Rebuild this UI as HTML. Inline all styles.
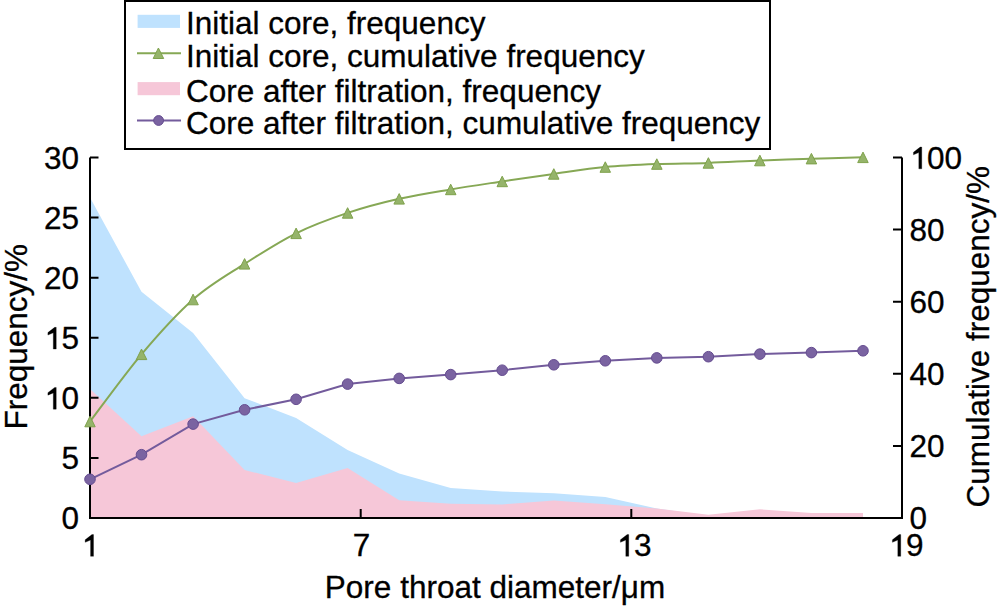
<!DOCTYPE html>
<html><head><meta charset="utf-8"><style>
html,body{margin:0;padding:0;background:#fff;width:1000px;height:609px;overflow:hidden}
svg{display:block}
text{font-family:"Liberation Sans",sans-serif;font-size:31.5px;fill:#000;stroke:#000;stroke-width:0.3px}
</style></head><body>
<svg width="1000" height="609" viewBox="0 0 1000 609">
<polygon points='90.0,518.0 90.0,197.5 141.5,291.8 193.1,333.0 244.6,398.2 296.1,418.0 347.6,450.0 399.2,473.5 450.7,488.0 502.2,491.5 553.8,493.3 605.3,497.0 656.8,508.5 708.4,516.0 759.9,516.0 811.4,516.0 863.0,516.0 863.0,518.0' fill='#BFE2FE'/>
<polygon points='90.0,518.0 90.0,389.0 141.5,436.3 193.1,416.3 244.6,470.0 296.1,483.0 347.6,468.0 399.2,500.3 450.7,503.8 502.2,504.4 553.8,500.5 605.3,504.2 656.8,508.5 708.4,514.8 759.9,509.3 811.4,513.0 863.0,513.0 863.0,518.0' fill='#F6C7D8'/>
<path d='M90,157.5 L90,518 L902,518 L902,157.5' fill='none' stroke='#000' stroke-width='2'/>
<path d='M90,518.0 L98.5,518.0 M90,457.9 L98.5,457.9 M90,397.8 L98.5,397.8 M90,337.8 L98.5,337.8 M90,277.7 L98.5,277.7 M90,217.6 L98.5,217.6 M90,157.5 L98.5,157.5 M902,518.0 L893,518.0 M902,445.9 L893,445.9 M902,373.8 L893,373.8 M902,301.7 L893,301.7 M902,229.6 L893,229.6 M902,157.5 L893,157.5 M360.7,518 L360.7,509 M631.3,518 L631.3,509' stroke='#000' stroke-width='2'/>
<path d='M90.0,421.5 C98.6,410.3 124.4,374.6 141.5,354.3 C158.7,334.0 175.9,314.6 193.1,299.5 C210.2,284.4 227.4,274.9 244.6,263.9 C261.8,252.9 278.9,241.8 296.1,233.3 C313.3,224.8 330.5,218.7 347.6,212.9 C364.8,207.2 382.0,202.7 399.2,198.8 C416.4,194.9 433.5,192.3 450.7,189.4 C467.9,186.5 485.1,184.0 502.2,181.4 C519.4,178.8 536.6,176.3 553.8,173.9 C570.9,171.5 588.1,168.7 605.3,167.1 C622.5,165.5 639.7,164.8 656.8,164.1 C674.0,163.4 691.2,163.5 708.4,162.9 C725.5,162.3 742.7,161.2 759.9,160.5 C777.1,159.8 794.2,159.2 811.4,158.7 C828.6,158.2 854.4,157.5 863.0,157.3' fill='none' stroke='#86A855' stroke-width='2'/>
<polygon points='84.8,426.8 95.2,426.8 90.0,416.2' fill='#95B46A' stroke='#7FA24C' stroke-width='1' stroke-linejoin='miter'/>
<polygon points='136.3,359.6 146.8,359.6 141.5,349.1' fill='#95B46A' stroke='#7FA24C' stroke-width='1' stroke-linejoin='miter'/>
<polygon points='187.8,304.8 198.3,304.8 193.1,294.2' fill='#95B46A' stroke='#7FA24C' stroke-width='1' stroke-linejoin='miter'/>
<polygon points='239.3,269.1 249.8,269.1 244.6,258.6' fill='#95B46A' stroke='#7FA24C' stroke-width='1' stroke-linejoin='miter'/>
<polygon points='290.9,238.6 301.4,238.6 296.1,228.1' fill='#95B46A' stroke='#7FA24C' stroke-width='1' stroke-linejoin='miter'/>
<polygon points='342.4,218.2 352.9,218.2 347.6,207.7' fill='#95B46A' stroke='#7FA24C' stroke-width='1' stroke-linejoin='miter'/>
<polygon points='393.9,204.1 404.4,204.1 399.2,193.6' fill='#95B46A' stroke='#7FA24C' stroke-width='1' stroke-linejoin='miter'/>
<polygon points='445.5,194.7 456.0,194.7 450.7,184.2' fill='#95B46A' stroke='#7FA24C' stroke-width='1' stroke-linejoin='miter'/>
<polygon points='497.0,186.7 507.5,186.7 502.2,176.2' fill='#95B46A' stroke='#7FA24C' stroke-width='1' stroke-linejoin='miter'/>
<polygon points='548.5,179.2 559.0,179.2 553.8,168.7' fill='#95B46A' stroke='#7FA24C' stroke-width='1' stroke-linejoin='miter'/>
<polygon points='600.0,172.3 610.5,172.3 605.3,161.8' fill='#95B46A' stroke='#7FA24C' stroke-width='1' stroke-linejoin='miter'/>
<polygon points='651.6,169.3 662.1,169.3 656.8,158.8' fill='#95B46A' stroke='#7FA24C' stroke-width='1' stroke-linejoin='miter'/>
<polygon points='703.1,168.2 713.6,168.2 708.4,157.7' fill='#95B46A' stroke='#7FA24C' stroke-width='1' stroke-linejoin='miter'/>
<polygon points='754.6,165.8 765.1,165.8 759.9,155.2' fill='#95B46A' stroke='#7FA24C' stroke-width='1' stroke-linejoin='miter'/>
<polygon points='806.2,163.9 816.7,163.9 811.4,153.4' fill='#95B46A' stroke='#7FA24C' stroke-width='1' stroke-linejoin='miter'/>
<polygon points='857.7,162.6 868.2,162.6 863.0,152.1' fill='#95B46A' stroke='#7FA24C' stroke-width='1' stroke-linejoin='miter'/>
<path d='M90.0,479.3 L141.5,454.7 L193.1,424.1 L244.6,409.8 L296.1,399.3 L347.6,384.1 L399.2,378.4 L450.7,374.6 L502.2,370.2 L553.8,364.8 L605.3,360.8 L656.8,357.9 L708.4,356.7 L759.9,354.1 L811.4,352.6 L863.0,350.8' fill='none' stroke='#735B9C' stroke-width='2'/>
<circle cx='90.0' cy='479.3' r='5.3' fill='#7A63A1' stroke='#654C90' stroke-width='1'/>
<circle cx='141.5' cy='454.7' r='5.3' fill='#7A63A1' stroke='#654C90' stroke-width='1'/>
<circle cx='193.1' cy='424.1' r='5.3' fill='#7A63A1' stroke='#654C90' stroke-width='1'/>
<circle cx='244.6' cy='409.8' r='5.3' fill='#7A63A1' stroke='#654C90' stroke-width='1'/>
<circle cx='296.1' cy='399.3' r='5.3' fill='#7A63A1' stroke='#654C90' stroke-width='1'/>
<circle cx='347.6' cy='384.1' r='5.3' fill='#7A63A1' stroke='#654C90' stroke-width='1'/>
<circle cx='399.2' cy='378.4' r='5.3' fill='#7A63A1' stroke='#654C90' stroke-width='1'/>
<circle cx='450.7' cy='374.6' r='5.3' fill='#7A63A1' stroke='#654C90' stroke-width='1'/>
<circle cx='502.2' cy='370.2' r='5.3' fill='#7A63A1' stroke='#654C90' stroke-width='1'/>
<circle cx='553.8' cy='364.8' r='5.3' fill='#7A63A1' stroke='#654C90' stroke-width='1'/>
<circle cx='605.3' cy='360.8' r='5.3' fill='#7A63A1' stroke='#654C90' stroke-width='1'/>
<circle cx='656.8' cy='357.9' r='5.3' fill='#7A63A1' stroke='#654C90' stroke-width='1'/>
<circle cx='708.4' cy='356.7' r='5.3' fill='#7A63A1' stroke='#654C90' stroke-width='1'/>
<circle cx='759.9' cy='354.1' r='5.3' fill='#7A63A1' stroke='#654C90' stroke-width='1'/>
<circle cx='811.4' cy='352.6' r='5.3' fill='#7A63A1' stroke='#654C90' stroke-width='1'/>
<circle cx='863.0' cy='350.8' r='5.3' fill='#7A63A1' stroke='#654C90' stroke-width='1'/>
<text x='61.49' y='529.30'>0</text>
<text x='61.49' y='469.22'>5</text>
<text x='43.97' y='409.14'><tspan fill-opacity='0' stroke-opacity='0'>1</tspan>0</text><polygon points='56.23,409.14 56.23,387.44 54.68,387.44 47.91,392.63 47.91,395.15 53.30,392.95 53.30,409.14' fill='#000' stroke='#000' stroke-width='0.3'/>
<text x='43.97' y='349.06'><tspan fill-opacity='0' stroke-opacity='0'>1</tspan>5</text><polygon points='56.23,349.06 56.23,327.36 54.68,327.36 47.91,332.55 47.91,335.07 53.30,332.87 53.30,349.06' fill='#000' stroke='#000' stroke-width='0.3'/>
<text x='43.97' y='288.98'>20</text>
<text x='43.97' y='228.90'>25</text>
<text x='43.97' y='168.82'>30</text>
<text x='909.50' y='529.30'>0</text>
<text x='909.50' y='457.20'>20</text>
<text x='909.50' y='385.10'>40</text>
<text x='909.50' y='313.00'>60</text>
<text x='909.50' y='240.90'>80</text>
<text x='909.50' y='168.80'><tspan fill-opacity='0' stroke-opacity='0'>1</tspan>00</text><polygon points='921.75,168.80 921.75,147.10 920.21,147.10 913.44,152.29 913.44,154.81 918.82,152.61 918.82,168.80' fill='#000' stroke='#000' stroke-width='0.3'/>
<text x='81.24' y='556.30'><tspan fill-opacity='0' stroke-opacity='0'>1</tspan></text><polygon points='93.50,556.30 93.50,534.60 91.95,534.60 85.18,539.79 85.18,542.31 90.57,540.11 90.57,556.30' fill='#000' stroke='#000' stroke-width='0.3'/>
<text x='352.74' y='556.30'>7</text>
<text x='616.49' y='556.30'><tspan fill-opacity='0' stroke-opacity='0'>1</tspan>3</text><polygon points='628.74,556.30 628.74,534.60 627.20,534.60 620.42,539.79 620.42,542.31 625.81,540.11 625.81,556.30' fill='#000' stroke='#000' stroke-width='0.3'/>
<text x='888.49' y='556.30'><tspan fill-opacity='0' stroke-opacity='0'>1</tspan>9</text><polygon points='900.74,556.30 900.74,534.60 899.20,534.60 892.42,539.79 892.42,542.31 897.81,540.11 897.81,556.30' fill='#000' stroke='#000' stroke-width='0.3'/>
<text x='495' y='598' text-anchor='middle'>Pore throat diameter/μm</text>
<text transform='translate(27.1,336.7) rotate(-90)' text-anchor='middle'>Frequency/%</text>
<text transform='translate(988.9,336.7) rotate(-90)' text-anchor='middle'>Cumulative frequency/%</text>
<rect x='125' y='1' width='645' height='148' fill='#fff' stroke='#000' stroke-width='2'/>
<rect x='137.6' y='14.8' width='42.4' height='13.1' fill='#BFE2FE'/>
<line x1='137' y1='53.3' x2='181' y2='53.3' stroke='#86A855' stroke-width='2'/>
<polygon points='153.2,58.5 163.7,58.5 158.4,48.0' fill='#95B46A' stroke='#7FA24C' stroke-width='1' stroke-linejoin='miter'/>
<rect x='137.6' y='82.1' width='42.4' height='13.1' fill='#F6C7D8'/>
<line x1='137' y1='120.5' x2='181' y2='120.5' stroke='#735B9C' stroke-width='2'/>
<circle cx='158.6' cy='120.5' r='4.9' fill='#7A63A1' stroke='#654C90' stroke-width='1'/>
<text x='186' y='34.3'>Initial core, frequency</text>
<text x='186' y='66.7'>Initial core, cumulative frequency</text>
<text x='186' y='101.5'>Core after filtration, frequency</text>
<text x='186' y='133.7'>Core after filtration, cumulative frequency</text>
</svg>
</body></html>
